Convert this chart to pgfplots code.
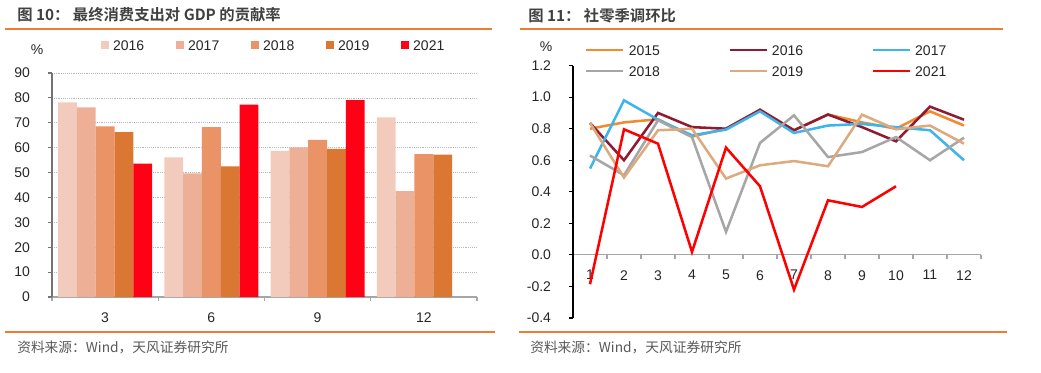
\documentclass[border=0pt]{standalone}
\usepackage{fontspec}
\setmainfont{Liberation Sans}
\newfontfamily\cjk{Noto Sans CJK SC}
\newfontfamily\cjkb{Noto Sans CJK SC Bold}
\usepackage{pgfplots}
\pgfplotsset{compat=1.18}
\definecolor{c16}{HTML}{F3CBBD}
\definecolor{c17}{HTML}{EDB096}
\definecolor{c18}{HTML}{E99366}
\definecolor{c19}{HTML}{D97733}
\definecolor{c21}{HTML}{FF0015}
\definecolor{l15}{HTML}{F28A30}
\definecolor{l16}{HTML}{8E1B33}
\definecolor{l17}{HTML}{3DB5EA}
\definecolor{l18}{HTML}{A6A6A6}
\definecolor{l19}{HTML}{DDAA7F}
\definecolor{l21}{HTML}{FF0000}
\definecolor{oline}{HTML}{ED7D31}
\definecolor{titc}{HTML}{404040}
\definecolor{srcc}{HTML}{595959}
\pgfplotsset{sqleg/.style={legend image code/.code={\fill[#1] (0pt,-3pt) rectangle (6pt,3pt);}}}
\begin{document}
\begin{tikzpicture}
\useasboundingbox (0,0) rectangle (780.75pt,279pt);
% titles
\node[anchor=west, inner sep=0pt, text=titc, font=\cjkb\fontsize{11.5}{13}\selectfont] at (12.75pt,267.75pt) {图 10： 最终消费支出对 GDP 的贡献率};
\node[anchor=west, inner sep=0pt, text=titc, font=\cjkb\fontsize{11.5}{13}\selectfont] at (396pt,267pt) {图 11： 社零季调环比};
% separator lines
\draw[oline, line width=1.1pt] (3.75pt,257.25pt) -- (369pt,257.25pt);
\draw[oline, line width=1.1pt] (390pt,257.25pt) -- (752.25pt,257.25pt);
\draw[oline, line width=1.1pt] (3.75pt,30pt) -- (371.25pt,30pt);
\draw[oline, line width=1.1pt] (389.25pt,30pt) -- (755.25pt,30pt);
% sources
\node[anchor=west, inner sep=0pt, text=srcc, font=\cjk\fontsize{10.3}{12}\selectfont] at (12.75pt,18.75pt) {资料来源：Wind，天风证券研究所};
\node[anchor=west, inner sep=0pt, text=srcc, font=\cjk\fontsize{10.3}{12}\selectfont] at (397.5pt,18.75pt) {资料来源：Wind，天风证券研究所};
% percent signs
\node[inner sep=0pt, text=black!85, font=\fontsize{10.5}{12}\selectfont] at (27.75pt,241.5pt) {\%};
\node[inner sep=0pt, text=black!85, font=\fontsize{10.5}{12}\selectfont] at (409.5pt,243.75pt) {\%};

\begin{axis}[
  at={(39pt,56.25pt)}, anchor=south west,
  scale only axis, width=318.75pt, height=168pt,
  xmin=-0.5, xmax=3.5, ymin=0, ymax=90,
  ybar=0pt, bar width=14.1pt,
  axis x line*=bottom, axis y line*=left,
  x axis line style={draw=gray!70, line width=0.8pt},
  y axis line style={draw=black!55, line width=0.8pt},
  xtick={0,1,2,3}, xticklabels={3,6,9,12},
  minor xtick={-0.5,0.5,1.5,2.5,3.5},
  major x tick style={draw=none},
  minor x tick style={draw=gray!70, line width=0.8pt},
  ytick={0,10,20,30,40,50,60,70,80,90},
  ytick style={draw=black!55, line width=0.8pt},
  tick align=outside, major tick length=3pt, minor tick length=3pt,
  ymajorgrids, grid style={densely dotted, draw=gray!55, line width=0.5pt},
  /pgf/number format/assume math mode=true,
  tick label style={font=\fontsize{10.5}{12}\selectfont, text=black!85},
  xticklabel style={yshift=-5pt},
  yticklabel style={xshift=-10pt},
  legend columns=5,
  legend style={draw=none, fill=none, at={(axis description cs:0.115,1.125)}, anchor=west, inner sep=0pt,
    font=\fontsize{10.5}{12}\selectfont, text=black!85, cells={anchor=west},
    nodes={inner sep=0pt, text height=7.5pt, text depth=0pt},
    /tikz/every odd column/.append style={column sep=3pt},
    /tikz/every even column/.append style={column sep=23.9pt}},
]
\addplot[fill=c16, draw=none, sqleg=c16] coordinates {(0,78.2) (1,56.1) (2,58.7) (3,72.2)};
\addlegendentry{2016}
\addplot[fill=c17, draw=none, sqleg=c17] coordinates {(0,76.2) (1,49.7) (2,60.1) (3,42.5)};
\addlegendentry{2017}
\addplot[fill=c18, draw=none, sqleg=c18] coordinates {(0,68.6) (1,68.3) (2,63.1) (3,57.4)};
\addlegendentry{2018}
\addplot[fill=c19, draw=none, sqleg=c19] coordinates {(0,66.2) (1,52.5) (2,59.5) (3,57.2)};
\addlegendentry{2019}
\addplot[fill=c21, draw=none, sqleg=c21] coordinates {(0,53.6) (1,77.3) (2,79.1)};
\addlegendentry{2021}
\end{axis}

\begin{axis}[
  at={(429.75pt,40.5pt)}, anchor=south west,
  scale only axis, width=306pt, height=189.3pt,
  xmin=0.5, xmax=12.5, ymin=-0.4, ymax=1.2,
  axis x line*=middle, axis y line*=left,
  hide obscured x ticks=false, hide obscured y ticks=false,
  x axis line style={draw=gray!70, line width=0.8pt},
  y axis line style={draw=black, line width=0.8pt},
  xtick={1,2,3,4,5,6,7,8,9,10,11,12},
  minor xtick={0.5,1.5,2.5,3.5,4.5,5.5,6.5,7.5,8.5,9.5,10.5,11.5,12.5},
  major x tick style={draw=none},
  minor x tick style={draw=gray!70, line width=0.8pt},
  ytick={-0.4,-0.2,0,0.2,0.4,0.6,0.8,1.0,1.2},
  ytick style={draw=black, line width=0.8pt},
  tick align=outside, major tick length=3pt, minor tick length=3pt,
  /pgf/number format/assume math mode=true,
  tick label style={font=\fontsize{10.5}{12}\selectfont, text=black!85},
  xticklabel style={yshift=-5pt},
  yticklabel style={xshift=-10pt, /pgf/number format/fixed, /pgf/number format/fixed zerofill, /pgf/number format/precision=1},
  every axis plot/.append style={line width=1.9pt, no markers},
  legend columns=3,
  legend image code/.code={\draw[#1, line width=2pt] (0pt,0pt) -- (27.75pt,0pt);},
  legend style={draw=none, fill=none, at={(axis description cs:0.029,1.02)}, anchor=west, inner sep=0pt,
    font=\fontsize{10.5}{12}\selectfont, text=black!85, cells={anchor=west},
    nodes={inner sep=0pt, text height=7.5pt, text depth=0pt},
    row sep=8.25pt,
    /tikz/every odd column/.append style={column sep=3pt},
    /tikz/every even column/.append style={column sep=51.3pt}},
]
\addplot[l15] coordinates {(1,0.80) (2,0.84) (3,0.86) (4,0.75) (5,0.80) (6,0.92) (7,0.79) (8,0.89) (9,0.84) (10,0.80) (11,0.91) (12,0.82)};
\addlegendentry{2015}
\addplot[l16] coordinates {(1,0.836) (2,0.60) (3,0.90) (4,0.81) (5,0.80) (6,0.92) (7,0.79) (8,0.89) (9,0.81) (10,0.72) (11,0.94) (12,0.857)};
\addlegendentry{2016}
\addplot[l17] coordinates {(1,0.547) (2,0.98) (3,0.857) (4,0.758) (5,0.794) (6,0.91) (7,0.773) (8,0.82) (9,0.83) (10,0.81) (11,0.79) (12,0.60)};
\addlegendentry{2017}
\addplot[l18] coordinates {(1,0.63) (2,0.505) (3,0.853) (4,0.747) (5,0.146) (6,0.71) (7,0.885) (8,0.62) (9,0.652) (10,0.747) (11,0.60) (12,0.743)};
\addlegendentry{2018}
\addplot[l19] coordinates {(1,0.836) (2,0.49) (3,0.79) (4,0.80) (5,0.484) (6,0.568) (7,0.595) (8,0.562) (9,0.889) (10,0.796) (11,0.82) (12,0.705)};
\addlegendentry{2019}
\addplot[l21] coordinates {(1,-0.186) (2,0.796) (3,0.705) (4,0.019) (5,0.68) (6,0.435) (7,-0.22) (8,0.346) (9,0.304) (10,0.435)};
\addlegendentry{2021}
\end{axis}
\end{tikzpicture}
\end{document}
